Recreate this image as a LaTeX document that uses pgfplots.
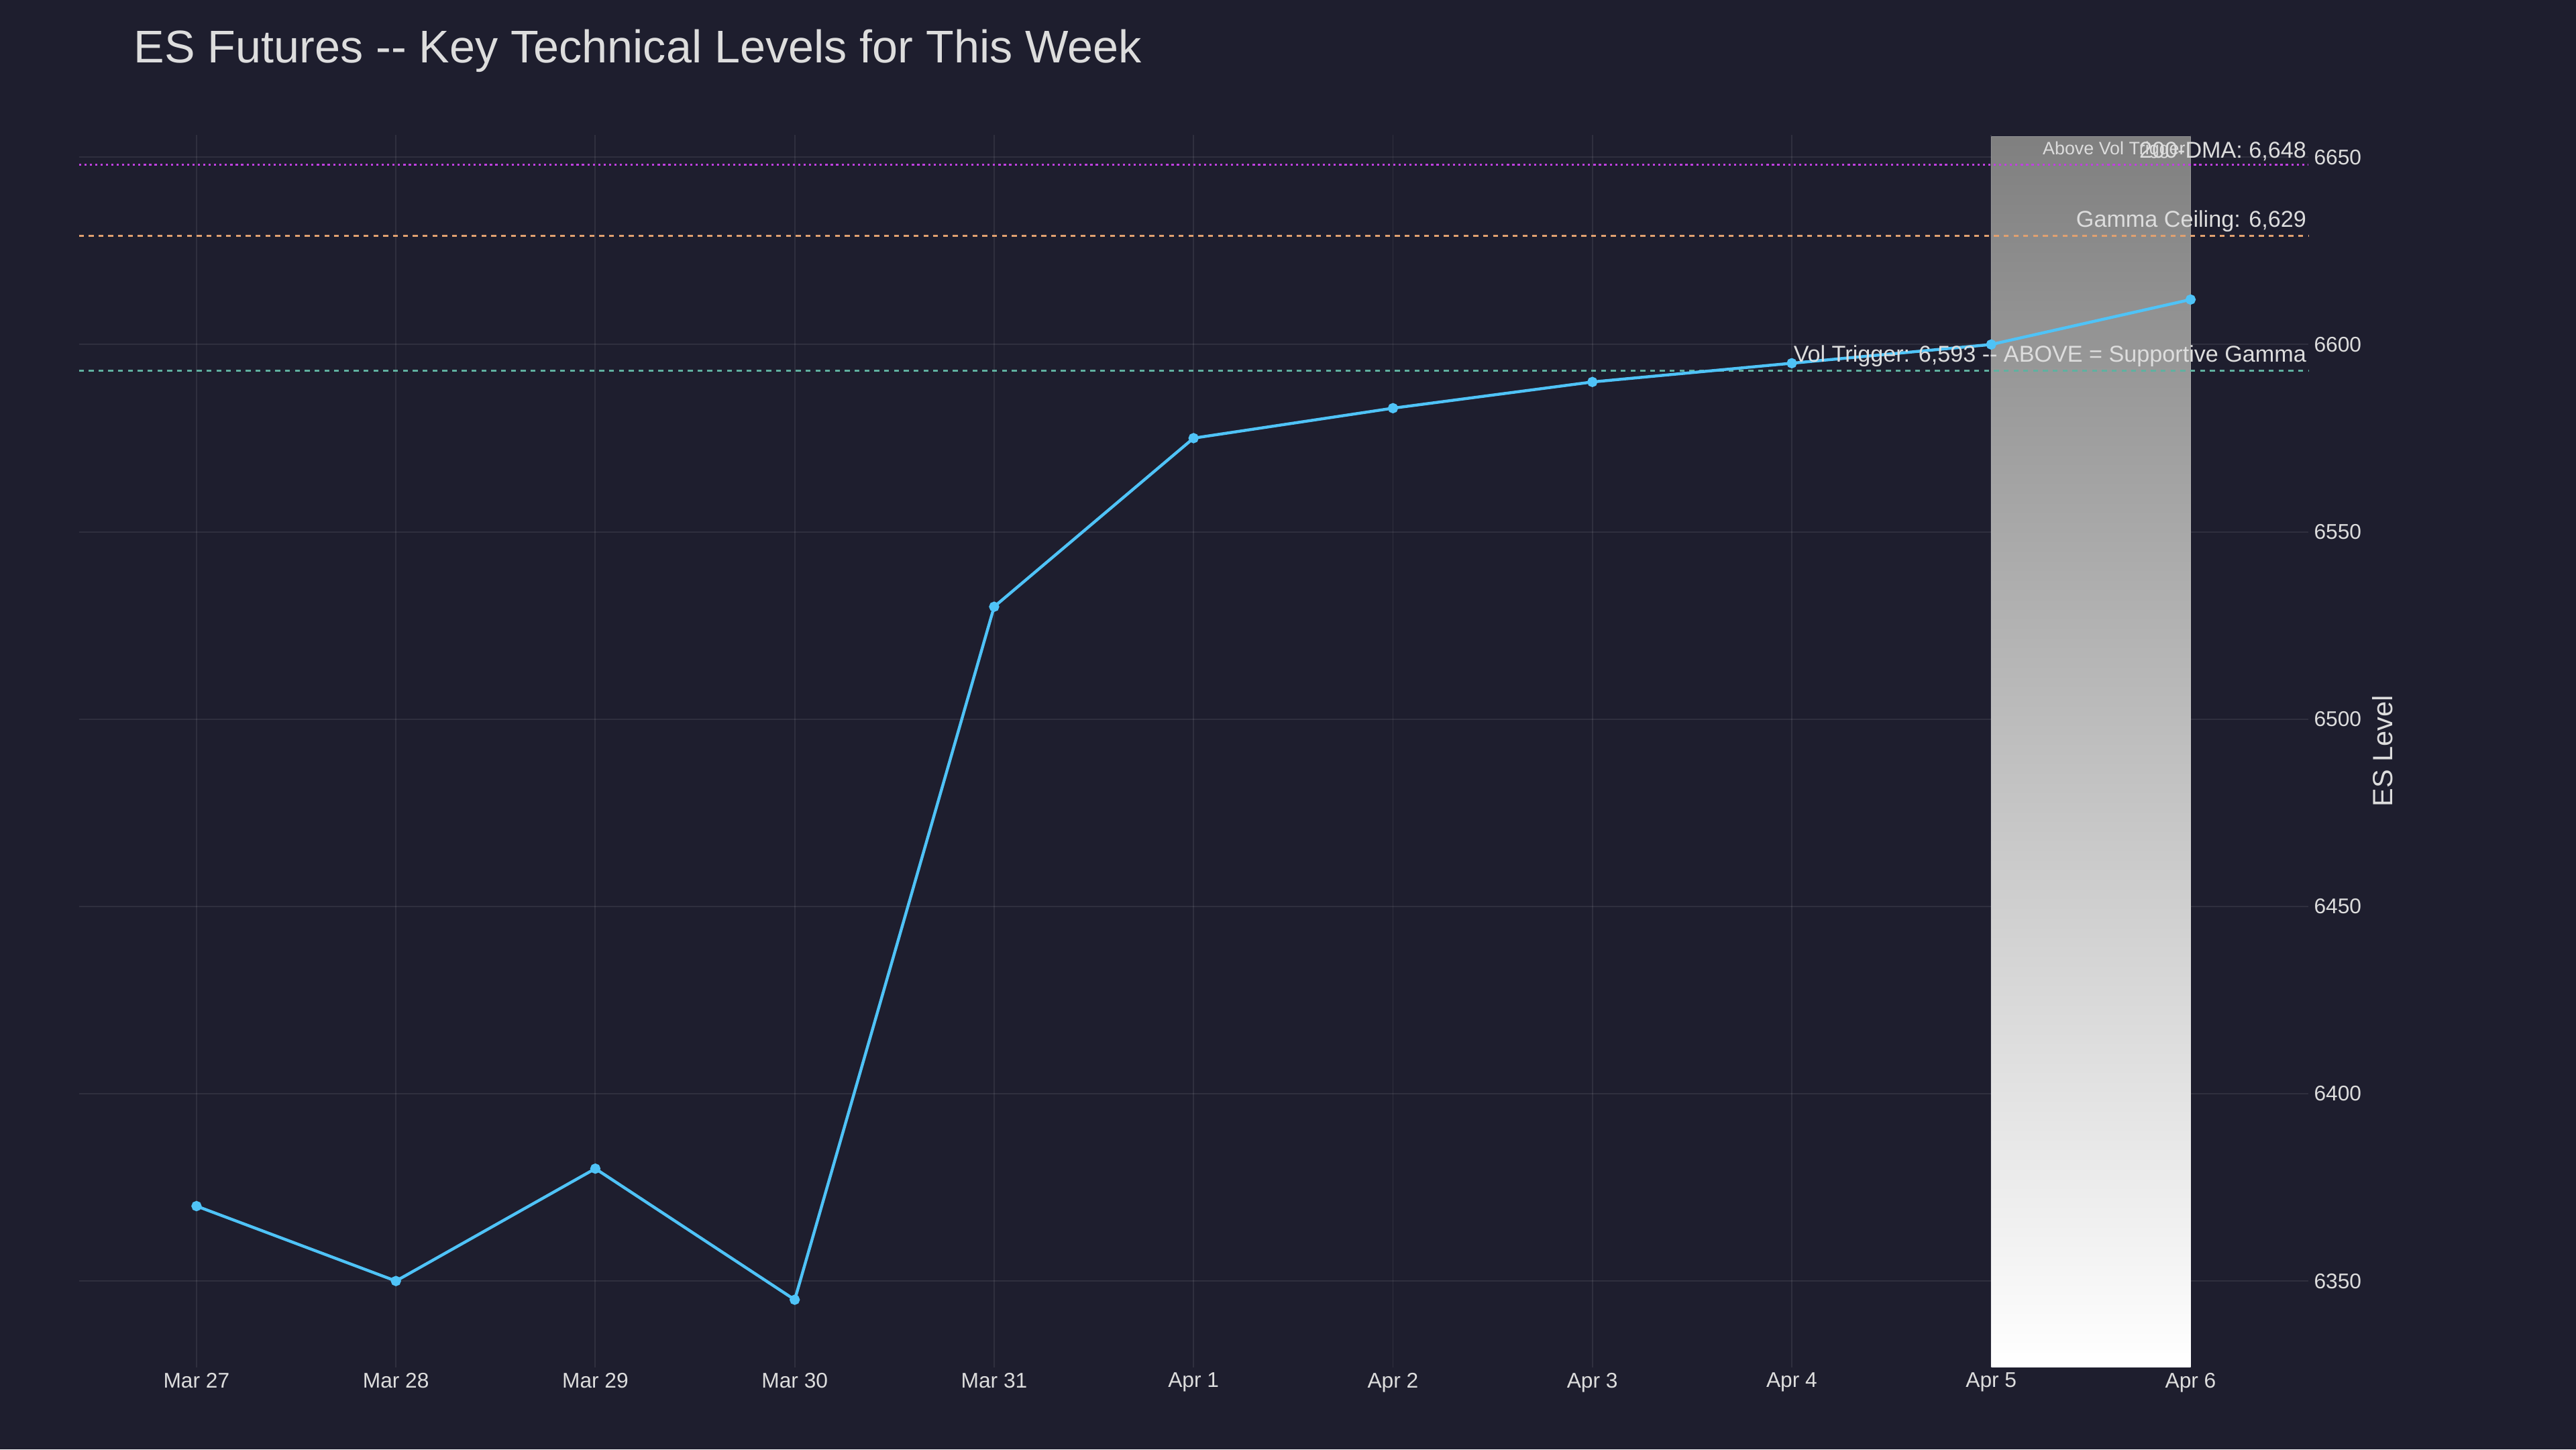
\documentclass[border=0pt]{standalone}
\usepackage{pgfplots}
\pgfplotsset{compat=1.18}
\usepackage{fontspec}
\setmainfont{Liberation Sans}
\definecolor{bg}{HTML}{1E1E2E}
\definecolor{txt}{HTML}{DDDDDD}
\definecolor{line}{HTML}{4FC3F7}
\definecolor{dma}{HTML}{C040E0}
\definecolor{gam}{HTML}{E0A070}
\definecolor{vt}{HTML}{60B0A0}
\definecolor{shade}{HTML}{263636}
\begin{document}
\begin{tikzpicture}[x=1bp,y=1bp]
\fill[bg] (0,0) rectangle (1568,882);
\node[anchor=west,text=txt,font=\fontsize{28}{32}\selectfont] at (78,851) {ES Futures {-}{-} Key Technical Levels for This Week};
\begin{axis}[at={(48bp,50bp)},anchor=south west,width=1357bp,height=750bp,scale only axis,
 xmin=-0.59,xmax=10.59,ymin=6327,ymax=6656,
 axis line style={draw=none},
 xtick={0,...,10},xticklabels={Mar 27,Mar 28,Mar 29,Mar 30,Mar 31,Apr 1,Apr 2,Apr 3,Apr 4,Apr 5,Apr 6},
 ytick={6350,6400,...,6650},
 yticklabel pos=right,
 ylabel={\textcolor{txt}{\fontsize{17}{20}\selectfont ES Level}},
 ylabel near ticks,
 /pgf/number format/assume math mode=true,
 yticklabel style={/pgf/number format/1000 sep={}},
 tick style={draw=none},
 ticklabel style={text=txt,font=\fontsize{13}{15}\selectfont},
 grid=major, grid style={white,opacity=0.08,line width=0.8bp},
 clip=false]
\fill[shade] (axis cs:9,6327) rectangle (axis cs:10,6655.5);
\draw[white,opacity=0.15] (axis cs:9,6327) rectangle (axis cs:10,6655.5);
\addplot[dma,dotted,line width=1.3bp] coordinates {(-0.59,6648) (10.59,6648)};
\addplot[gam,dashed,line width=1bp] coordinates {(-0.59,6629) (10.59,6629)};
\addplot[vt,dashed,line width=1bp] coordinates {(-0.59,6593) (10.59,6593)};
\addplot[line,line width=1.8bp,mark=*,mark size=2.2bp] coordinates {
(0,6370)(1,6350)(2,6380)(3,6345)(4,6530)(5,6575)(6,6583)(7,6590)(8,6595)(9,6600)(10,6612)};
\node[anchor=west,text=txt,font=\fontsize{11}{13}\selectfont] at (axis cs:9.23,6652) {Above Vol Trigger};
\node[anchor=south east,text=txt,inner sep=1bp,font=\fontsize{14}{16}\selectfont] at (axis cs:10.59,6648.5) {200-DMA: 6,648};
\node[anchor=south east,text=txt,inner sep=1bp,font=\fontsize{14}{16}\selectfont] at (axis cs:10.59,6629.5) {Gamma Ceiling: 6,629};
\node[anchor=south east,text=txt,inner sep=1bp,font=\fontsize{14}{16}\selectfont] at (axis cs:10.59,6593.5) {Vol Trigger: 6,593 {-}{-} ABOVE = Supportive Gamma};
\end{axis}
\end{tikzpicture}
\end{document}
